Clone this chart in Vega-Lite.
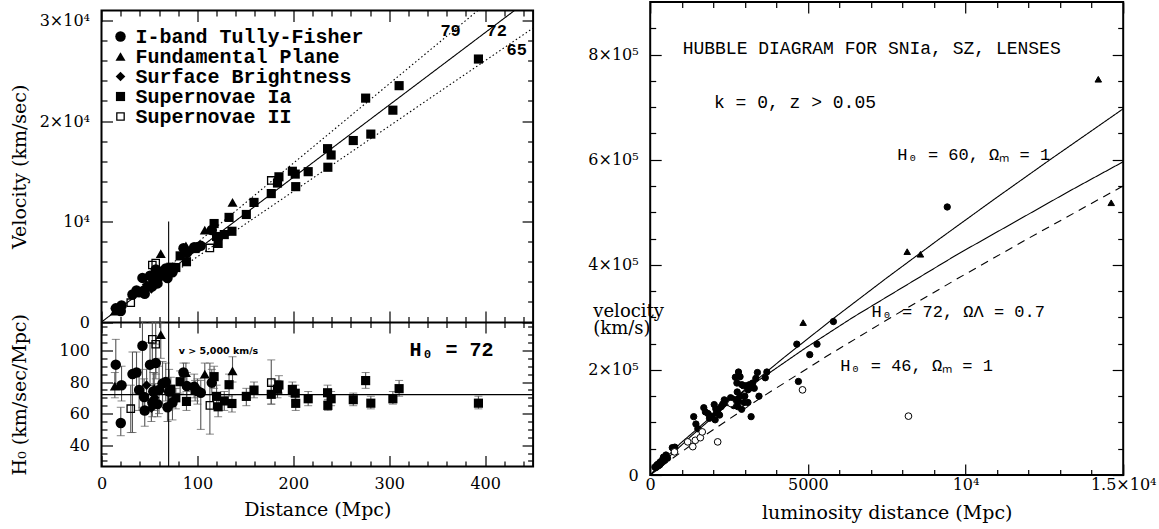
{
  "$schema": "https://vega.github.io/schema/vega-lite/v6.json",
  "autosize": {"type": "pad"},
  "padding": {"left": 9.5, "top": 0, "right": 0, "bottom": 0},
  "background": "white",
  "config": {
    "view": {"stroke": "black", "strokeWidth": 2},
    "font": "DejaVu Serif",
    "axis": {
      "domain": false, "grid": false, "labelFont": "DejaVu Serif", "labelFontSize": 16,
      "labelColor": "black", "tickColor": "black", "tickWidth": 1.2,
      "titleFont": "DejaVu Serif", "titleFontSize": 19, "titleFontWeight": "normal", "titleColor": "black",
      "labelFlush": false, "labelOverlap": false, "labelBound": false
    }
  },
  "datasets": {
    "hl": [
      {"g": "72", "d": 0, "v": 0}, {"g": "72", "d": 430.6, "v": 31000},
      {"g": "79", "d": 70, "v": 5530}, {"g": "79", "d": 392.4, "v": 31000},
      {"g": "65", "d": 70, "v": 4550}, {"g": "65", "d": 450, "v": 29250}
    ],
    "hlab": [
      {"t": "79", "d": 364, "v": 28930}, {"t": "72", "d": 412, "v": 28930}, {"t": "65", "d": 433, "v": 27040}
    ],
    "vmark": [{"d": 70, "v0": 0, "v1": 10000}],
    "pts": [
      {"m": "I-band Tully-Fisher", "d": 14.9, "v": 1360, "h": 91, "lo": 79, "hi": 107},
      {"m": "I-band Tully-Fisher", "d": 20.1, "v": 1090, "h": 54, "lo": 46, "hi": 64},
      {"m": "I-band Tully-Fisher", "d": 20.9, "v": 1640, "h": 78, "lo": 68, "hi": 90},
      {"m": "I-band Tully-Fisher", "d": 32.3, "v": 2740, "h": 85, "lo": 48, "hi": 99},
      {"m": "I-band Tully-Fisher", "d": 36.5, "v": 3140, "h": 86, "lo": 73, "hi": 99},
      {"m": "I-band Tully-Fisher", "d": 39.2, "v": 2950, "h": 75, "lo": 62, "hi": 88},
      {"m": "I-band Tully-Fisher", "d": 42.7, "v": 4390, "h": 103, "lo": 64, "hi": 118},
      {"m": "I-band Tully-Fisher", "d": 45.1, "v": 2800, "h": 62, "lo": 52, "hi": 72},
      {"m": "I-band Tully-Fisher", "d": 44.4, "v": 3130, "h": 70.5, "lo": 60, "hi": 82},
      {"m": "I-band Tully-Fisher", "d": 50.6, "v": 4610, "h": 91, "lo": 78, "hi": 105},
      {"m": "I-band Tully-Fisher", "d": 53, "v": 3550, "h": 67, "lo": 58, "hi": 78},
      {"m": "I-band Tully-Fisher", "d": 54, "v": 4010, "h": 74, "lo": 64, "hi": 86},
      {"m": "I-band Tully-Fisher", "d": 56.6, "v": 5220, "h": 92, "lo": 82, "hi": 104},
      {"m": "I-band Tully-Fisher", "d": 58.4, "v": 3840, "h": 66, "lo": 58, "hi": 75},
      {"m": "I-band Tully-Fisher", "d": 60, "v": 4500, "h": 75, "lo": 60, "hi": 90},
      {"m": "I-band Tully-Fisher", "d": 63.6, "v": 5050, "h": 79, "lo": 66, "hi": 93},
      {"m": "I-band Tully-Fisher", "d": 67, "v": 5330, "h": 80, "lo": 68, "hi": 92},
      {"m": "I-band Tully-Fisher", "d": 68.8, "v": 4380, "h": 64, "lo": 55, "hi": 74},
      {"m": "I-band Tully-Fisher", "d": 70.5, "v": 5240, "h": 74, "lo": 62, "hi": 88},
      {"m": "I-band Tully-Fisher", "d": 74, "v": 4950, "h": 67, "lo": 56, "hi": 78},
      {"m": "I-band Tully-Fisher", "d": 85.5, "v": 7350, "h": 86, "lo": 78, "hi": 92},
      {"m": "I-band Tully-Fisher", "d": 89, "v": 6890, "h": 77.4, "lo": 70, "hi": 86},
      {"m": "I-band Tully-Fisher", "d": 96.6, "v": 7440, "h": 77, "lo": 70, "hi": 85},
      {"m": "I-band Tully-Fisher", "d": 100, "v": 7430, "h": 74.3, "lo": 66, "hi": 82},
      {"m": "I-band Tully-Fisher", "d": 103.5, "v": 7580, "h": 73.2, "lo": 50, "hi": 81},
      {"m": "I-band Tully-Fisher", "d": 115, "v": 9150, "h": 79.6, "lo": 72, "hi": 88},
      {"m": "Fundamental Plane", "d": 13.9, "v": 1075, "h": 77.4, "lo": 70, "hi": 86},
      {"m": "Fundamental Plane", "d": 55, "v": 4200, "h": 76, "lo": 66, "hi": 86},
      {"m": "Fundamental Plane", "d": 61.8, "v": 6800, "h": 110, "lo": 95, "hi": 118},
      {"m": "Fundamental Plane", "d": 88, "v": 7570, "h": 86, "lo": 76, "hi": 92},
      {"m": "Fundamental Plane", "d": 107.7, "v": 9140, "h": 85, "lo": 72, "hi": 92},
      {"m": "Fundamental Plane", "d": 136.6, "v": 11900, "h": 87, "lo": 80, "hi": 96},
      {"m": "Surface Brightness", "d": 47, "v": 3700, "h": 78, "lo": 68, "hi": 88},
      {"m": "Surface Brightness", "d": 52, "v": 3300, "h": 63.5, "lo": 55, "hi": 72},
      {"m": "Surface Brightness", "d": 55.5, "v": 3900, "h": 70, "lo": 62, "hi": 79},
      {"m": "Supernovae Ia", "d": 72.3, "v": 5450, "h": 75.4, "lo": 68, "hi": 83},
      {"m": "Supernovae Ia", "d": 77.5, "v": 5420, "h": 70, "lo": 63, "hi": 76},
      {"m": "Supernovae Ia", "d": 82, "v": 6580, "h": 80.2, "lo": 73, "hi": 87},
      {"m": "Supernovae Ia", "d": 88.6, "v": 6000, "h": 67.7, "lo": 62, "hi": 74},
      {"m": "Supernovae Ia", "d": 97.6, "v": 7310, "h": 74.9, "lo": 68, "hi": 81},
      {"m": "Supernovae Ia", "d": 117.4, "v": 9800, "h": 83.4, "lo": 76, "hi": 90},
      {"m": "Supernovae Ia", "d": 120, "v": 8510, "h": 70.9, "lo": 64, "hi": 78},
      {"m": "Supernovae Ia", "d": 121.6, "v": 7820, "h": 64.3, "lo": 58, "hi": 70},
      {"m": "Supernovae Ia", "d": 128, "v": 8700, "h": 68, "lo": 62, "hi": 74},
      {"m": "Supernovae Ia", "d": 133, "v": 10410, "h": 78.3, "lo": 71, "hi": 85},
      {"m": "Supernovae Ia", "d": 136, "v": 9030, "h": 66.4, "lo": 61, "hi": 72},
      {"m": "Supernovae Ia", "d": 151, "v": 10700, "h": 70.9, "lo": 65, "hi": 76},
      {"m": "Supernovae Ia", "d": 159, "v": 11900, "h": 74.9, "lo": 70, "hi": 80},
      {"m": "Supernovae Ia", "d": 177, "v": 12780, "h": 72.2, "lo": 66, "hi": 78},
      {"m": "Supernovae Ia", "d": 183.5, "v": 13830, "h": 75.4, "lo": 70, "hi": 81},
      {"m": "Supernovae Ia", "d": 185, "v": 14450, "h": 78.1, "lo": 73, "hi": 84},
      {"m": "Supernovae Ia", "d": 199, "v": 15000, "h": 75.3, "lo": 71, "hi": 80},
      {"m": "Supernovae Ia", "d": 202, "v": 14720, "h": 72.9, "lo": 68, "hi": 78},
      {"m": "Supernovae Ia", "d": 202.5, "v": 13470, "h": 66.5, "lo": 62, "hi": 71},
      {"m": "Supernovae Ia", "d": 215.5, "v": 14960, "h": 69.4, "lo": 65, "hi": 74},
      {"m": "Supernovae Ia", "d": 235.7, "v": 17250, "h": 73.2, "lo": 68, "hi": 78},
      {"m": "Supernovae Ia", "d": 236, "v": 15400, "h": 65.2, "lo": 62, "hi": 69},
      {"m": "Supernovae Ia", "d": 239.4, "v": 16620, "h": 69.4, "lo": 65, "hi": 74},
      {"m": "Supernovae Ia", "d": 262.5, "v": 18060, "h": 68.8, "lo": 65, "hi": 73},
      {"m": "Supernovae Ia", "d": 275.4, "v": 22280, "h": 80.9, "lo": 76, "hi": 86},
      {"m": "Supernovae Ia", "d": 280.8, "v": 18700, "h": 66.6, "lo": 63, "hi": 71},
      {"m": "Supernovae Ia", "d": 303.8, "v": 21080, "h": 69.4, "lo": 66, "hi": 74},
      {"m": "Supernovae Ia", "d": 310.3, "v": 23520, "h": 75.8, "lo": 71, "hi": 81},
      {"m": "Supernovae Ia", "d": 393, "v": 26170, "h": 66.6, "lo": 63, "hi": 71},
      {"m": "Supernovae II", "d": 30.5, "v": 1925, "h": 63.1, "lo": 48, "hi": 78},
      {"m": "Supernovae II", "d": 53, "v": 5670, "h": 107, "lo": 90, "hi": 118},
      {"m": "Supernovae II", "d": 56.5, "v": 5870, "h": 103.9, "lo": 85, "hi": 118},
      {"m": "Supernovae II", "d": 113, "v": 7370, "h": 65.2, "lo": 47, "hi": 92},
      {"m": "Supernovae II", "d": 177, "v": 14090, "h": 79.6, "lo": 66, "hi": 94}
    ],
    "h0lab": [{"t": "H₀ = 72", "d": 365, "h": 100.1}],
    "vlab": [{"t": "v > 5,000 km/s", "d": 80.6, "h": 99.5}],
    "cv": [
      {"c": "60", "d": 0, "v": 0}, {"c": "60", "d": 511.5, "v": 29979}, {"c": "60", "d": 1318.8, "v": 74948},
      {"c": "60", "d": 2750.6, "v": 149896}, {"c": "60", "d": 4268.2, "v": 224844}, {"c": "60", "d": 5853.8, "v": 299792},
      {"c": "60", "d": 7494.8, "v": 374740}, {"c": "60", "d": 9182.2, "v": 449688}, {"c": "60", "d": 10909.3, "v": 524636},
      {"c": "60", "d": 12670.6, "v": 599584}, {"c": "60", "d": 15000, "v": 696800},
      {"c": "72", "d": 0, "v": 0}, {"c": "72", "d": 447.5, "v": 29979}, {"c": "72", "d": 952.9, "v": 59958},
      {"c": "72", "d": 2111.8, "v": 119917}, {"c": "72", "d": 3432.1, "v": 179875}, {"c": "72", "d": 4878.5, "v": 239834},
      {"c": "72", "d": 6424.1, "v": 299792}, {"c": "72", "d": 9740.4, "v": 419709}, {"c": "72", "d": 13276.8, "v": 539618},
      {"c": "72", "d": 15000, "v": 596000},
      {"c": "46", "d": 0, "v": 0}, {"c": "46", "d": 667.2, "v": 29979}, {"c": "46", "d": 1720.1, "v": 74948},
      {"c": "46", "d": 3587.8, "v": 149896}, {"c": "46", "d": 5567.3, "v": 224844}, {"c": "46", "d": 7635.4, "v": 299792},
      {"c": "46", "d": 9775.8, "v": 374740}, {"c": "46", "d": 11976.8, "v": 449688}, {"c": "46", "d": 14229.5, "v": 524636},
      {"c": "46", "d": 15000, "v": 549900}
    ],
    "rp": [
      {"k": "c", "d": 150, "v": 15000}, {"k": "c", "d": 180, "v": 14000}, {"k": "c", "d": 200, "v": 18000},
      {"k": "c", "d": 230, "v": 20000}, {"k": "c", "d": 250, "v": 17000}, {"k": "c", "d": 280, "v": 22000},
      {"k": "c", "d": 300, "v": 19000}, {"k": "c", "d": 320, "v": 25000}, {"k": "c", "d": 350, "v": 23000},
      {"k": "c", "d": 400, "v": 30000}, {"k": "c", "d": 420, "v": 34000}, {"k": "c", "d": 450, "v": 28000},
      {"k": "c", "d": 500, "v": 38000}, {"k": "c", "d": 550, "v": 32000}, {"k": "c", "d": 700, "v": 52000},
      {"k": "c", "d": 780, "v": 53000},
      {"k": "c", "d": 1380, "v": 111000}, {"k": "c", "d": 1450, "v": 97000}, {"k": "c", "d": 1510, "v": 88000},
      {"k": "c", "d": 1700, "v": 128000}, {"k": "c", "d": 1750, "v": 120000}, {"k": "c", "d": 1830, "v": 117000},
      {"k": "c", "d": 1880, "v": 108000}, {"k": "c", "d": 1950, "v": 112000}, {"k": "c", "d": 2030, "v": 134000},
      {"k": "c", "d": 2060, "v": 105000}, {"k": "c", "d": 2080, "v": 126000}, {"k": "c", "d": 2100, "v": 118000},
      {"k": "c", "d": 2150, "v": 124000}, {"k": "c", "d": 2200, "v": 114000}, {"k": "c", "d": 2250, "v": 130000},
      {"k": "c", "d": 2300, "v": 135000}, {"k": "c", "d": 2350, "v": 143000}, {"k": "c", "d": 2400, "v": 140000},
      {"k": "c", "d": 2450, "v": 138000}, {"k": "c", "d": 2500, "v": 140000}, {"k": "c", "d": 2550, "v": 147000},
      {"k": "c", "d": 2600, "v": 145000}, {"k": "c", "d": 2650, "v": 132000}, {"k": "c", "d": 2700, "v": 143000},
      {"k": "c", "d": 2700, "v": 186000}, {"k": "c", "d": 2750, "v": 175000}, {"k": "c", "d": 2760, "v": 158000},
      {"k": "c", "d": 2780, "v": 130000}, {"k": "c", "d": 2800, "v": 140000}, {"k": "c", "d": 2800, "v": 196000},
      {"k": "c", "d": 2850, "v": 150000}, {"k": "c", "d": 2850, "v": 187000}, {"k": "c", "d": 2900, "v": 172000},
      {"k": "c", "d": 2900, "v": 125000}, {"k": "c", "d": 2950, "v": 170000}, {"k": "c", "d": 2980, "v": 138000},
      {"k": "c", "d": 3000, "v": 150000}, {"k": "c", "d": 3050, "v": 170000}, {"k": "c", "d": 3100, "v": 162000},
      {"k": "c", "d": 3100, "v": 138000}, {"k": "c", "d": 3150, "v": 172000}, {"k": "c", "d": 3200, "v": 166000},
      {"k": "c", "d": 3200, "v": 111000}, {"k": "c", "d": 3250, "v": 175000}, {"k": "c", "d": 3300, "v": 165000},
      {"k": "c", "d": 3350, "v": 184000}, {"k": "c", "d": 3400, "v": 195000}, {"k": "c", "d": 3450, "v": 150000},
      {"k": "c", "d": 3650, "v": 185000}, {"k": "c", "d": 3700, "v": 196000},
      {"k": "c", "d": 4650, "v": 249000}, {"k": "c", "d": 5290, "v": 249000}, {"k": "c", "d": 5060, "v": 229000},
      {"k": "c", "d": 4700, "v": 178000}, {"k": "c", "d": 5810, "v": 292000}, {"k": "c", "d": 9420, "v": 510000},
      {"k": "t", "d": 4850, "v": 290000}, {"k": "t", "d": 8150, "v": 425000}, {"k": "t", "d": 8570, "v": 420000},
      {"k": "t", "d": 14210, "v": 753000}, {"k": "t", "d": 14620, "v": 518000},
      {"k": "o", "d": 770, "v": 44000}, {"k": "o", "d": 1190, "v": 63000}, {"k": "o", "d": 1350, "v": 54000},
      {"k": "o", "d": 1430, "v": 66000}, {"k": "o", "d": 1590, "v": 71000}, {"k": "o", "d": 1650, "v": 82000},
      {"k": "o", "d": 2140, "v": 63000}, {"k": "o", "d": 2560, "v": 136000}, {"k": "o", "d": 4830, "v": 162000},
      {"k": "o", "d": 8190, "v": 112000}
    ],
    "rt1": [
      {"t": "HUBBLE DIAGRAM FOR SNIa, SZ, LENSES", "d": 1029, "v": 811000},
      {"t": "k = 0, z > 0.05", "d": 2023, "v": 708000}
    ],
    "rt2": [
      {"t": "H₀ = 60, Ωₘ = 1", "d": 7836, "v": 609000},
      {"t": "H₀ = 72, ΩΛ = 0.7", "d": 7018, "v": 311000},
      {"t": "H₀ = 46, Ωₘ = 1", "d": 6023, "v": 208000}
    ]
  },
  "bounds": "flush",
  "center": true,
  "spacing": 116.7,
  "resolve": {"scale": {"shape": "independent", "fill": "independent", "size": "independent", "strokeDash": "independent"}, "legend": {"shape": "independent", "fill": "independent", "size": "independent"}},
  "hconcat": [
    {
      "width": 431.6,
      "height": 456,
      "resolve": {"scale": {"y": "independent"}, "axis": {"x": "independent", "y": "independent"}},
      "layer": [
        {
          "data": {"name": "hl"},
          "mark": {"type": "line", "color": "black", "strokeWidth": 1.1},
          "encoding": {
            "x": {"field": "d", "type": "quantitative", "scale": {"domain": [0, 450], "nice": false, "zero": false},
              "axis": {"orient": "bottom", "values": [0, 100, 200, 300, 400], "tickSize": -11, "labelPadding": 28, "labelBaseline": "middle",
                "title": "Distance (Mpc)", "titleY": 42.7, "titleBaseline": "middle"}},
            "y": {"field": "v", "type": "quantitative", "scale": {"domain": [-14380.4, 31000], "nice": false, "zero": false},
              "axis": {"orient": "left", "values": [0, 10000, 20000, 30000], "tickSize": -11, "labelPadding": 23,
                "labelExpr": "datum.value == 0 ? '0' : datum.value == 10000 ? '10⁴' : (datum.value / 10000) + '×10⁴'",
                "title": "Velocity (km/sec)", "titleX": -82, "titleY": 155.75, "titleBaseline": "middle"}},
            "strokeDash": {"field": "g", "type": "nominal", "scale": {"domain": ["72", "79", "65"], "range": [[1, 0], [1.5, 2.5], [1.5, 2.5]]}, "legend": null}
          }
        },
        {
          "data": {"name": "vmark"},
          "mark": {"type": "rule", "color": "black", "strokeWidth": 1.1},
          "encoding": {
            "x": {"field": "d", "type": "quantitative",
              "axis": {"orient": "top", "values": [0, 100, 200, 300, 400], "labels": false, "tickSize": -11, "title": null}},
            "y": {"field": "v0", "type": "quantitative", "scale": {"domain": [-14380.4, 31000], "nice": false, "zero": false},
              "axis": {"orient": "right", "values": [0, 10000, 20000, 30000], "labels": false, "tickSize": -11, "title": null}},
            "y2": {"field": "v1"}
          }
        },
        {
          "data": {"name": "hlab"},
          "mark": {"type": "text", "font": "Liberation Mono", "fontWeight": "bold", "fontSize": 17, "color": "black", "align": "center", "baseline": "middle"},
          "encoding": {
            "x": {"field": "d", "type": "quantitative",
              "axis": {"orient": "top", "values": [20, 40, 60, 80, 120, 140, 160, 180, 220, 240, 260, 280, 320, 340, 360, 380, 420, 440], "labels": false, "tickSize": -5.5, "title": null}},
            "y": {"field": "v", "type": "quantitative", "scale": {"domain": [-14380.4, 31000], "nice": false, "zero": false},
              "axis": {"orient": "right", "values": [2000, 4000, 6000, 8000, 12000, 14000, 16000, 18000, 22000, 24000, 26000, 28000], "labels": false, "tickSize": -5.5, "title": null}},
            "text": {"field": "t"}
          }
        },
        {
          "data": {"name": "pts"},
          "mark": {"type": "point", "filled": true, "color": "black", "opacity": 1},
          "encoding": {
            "x": {"field": "d", "type": "quantitative",
              "axis": {"orient": "bottom", "values": [20, 40, 60, 80, 120, 140, 160, 180, 220, 240, 260, 280, 320, 340, 360, 380, 420, 440], "labels": false, "tickSize": -5.5, "title": null}},
            "y": {"field": "v", "type": "quantitative", "scale": {"domain": [-14380.4, 31000], "nice": false, "zero": false},
              "axis": {"orient": "left", "values": [2000, 4000, 6000, 8000, 12000, 14000, 16000, 18000, 22000, 24000, 26000, 28000], "labels": false, "tickSize": -5.5, "title": null}},
            "shape": {"field": "m", "type": "nominal",
              "scale": {"domain": ["I-band Tully-Fisher", "Fundamental Plane", "Surface Brightness", "Supernovae Ia", "Supernovae II"], "range": ["circle", "triangle-up", "diamond", "square", "M-1,-1H1V1H-1ZM-0.7,-0.7V0.7H0.7V-0.7Z"]},
              "legend": {"title": null, "orient": "none", "legendX": 9, "legendY": 16, "labelFont": "Liberation Mono", "labelFontSize": 20, "labelFontWeight": "bold", "labelColor": "black", "rowPadding": 0, "labelOffset": 5, "padding": 0, "labelLimit": 400}},
            "size": {"field": "m", "type": "nominal",
              "scale": {"domain": ["I-band Tully-Fisher", "Fundamental Plane", "Surface Brightness", "Supernovae Ia", "Supernovae II"], "range": [110, 75, 70, 75, 65]},
              "legend": {"title": null, "orient": "none", "legendX": 9, "legendY": 16, "labelFont": "Liberation Mono", "labelFontSize": 20, "labelFontWeight": "bold", "labelColor": "black", "rowPadding": 0, "labelOffset": 5, "padding": 0, "labelLimit": 400}}
          }
        },
        {
          "data": {"name": "pts"},
          "mark": {"type": "errorbar", "color": "#555555", "ticks": {"size": 8}, "rule": {"strokeWidth": 1.1}},
          "encoding": {
            "x": {"field": "d", "type": "quantitative", "axis": null},
            "y": {"field": "lo", "type": "quantitative", "scale": {"domain": [26.5, 315.25], "nice": false, "zero": false}, "axis": null},
            "y2": {"field": "hi"}
          }
        },
        {
          "data": {"name": "vmark"},
          "mark": {"type": "rule", "color": "black", "strokeWidth": 1.1},
          "encoding": {
            "y": {"datum": 72, "type": "quantitative", "scale": {"domain": [26.5, 315.25], "nice": false, "zero": false}, "axis": null}
          }
        },
        {
          "data": {"name": "vmark"},
          "mark": {"type": "rule", "color": "black", "strokeWidth": 1.1},
          "encoding": {
            "x": {"field": "d", "type": "quantitative",
              "axis": {"orient": "top", "offset": -311.5, "values": [20, 40, 60, 80, 120, 140, 160, 180, 220, 240, 260, 280, 320, 340, 360, 380, 420, 440], "labels": false, "tickSize": -5.5, "title": null}},
            "y": {"datum": 26.5, "type": "quantitative", "scale": {"domain": [26.5, 315.25], "nice": false, "zero": false},
              "axis": {"orient": "right", "values": [30, 35, 45, 50, 55, 65, 70, 75, 85, 90, 95, 105, 110, 115], "labels": false, "tickSize": -5.5, "title": null}},
            "y2": {"datum": 118}
          }
        },
        {
          "data": {"name": "pts"},
          "mark": {"type": "point", "filled": true, "color": "black", "opacity": 1},
          "encoding": {
            "x": {"field": "d", "type": "quantitative",
              "axis": {"orient": "bottom", "offset": -144.5, "values": [0, 100, 200, 300, 400], "labels": false, "tickSize": -11, "title": null,
                "domain": true, "domainColor": "black", "domainWidth": 2}},
            "y": {"field": "h", "type": "quantitative", "scale": {"domain": [26.5, 315.25], "nice": false, "zero": false},
              "axis": {"orient": "left", "values": [40, 60, 80, 100], "tickSize": -11, "labelPadding": 23,
                "title": "H₀ (km/sec/Mpc)", "titleX": -82, "titleY": 383.75, "titleBaseline": "middle"}},
            "shape": {"field": "m", "type": "nominal"},
            "size": {"field": "m", "type": "nominal"}
          }
        },
        {
          "data": {"name": "h0lab"},
          "mark": {"type": "text", "font": "Liberation Mono", "fontWeight": "bold", "fontSize": 20, "color": "black", "align": "center", "baseline": "middle"},
          "encoding": {
            "x": {"field": "d", "type": "quantitative",
              "axis": {"orient": "bottom", "offset": -144.5, "values": [20, 40, 60, 80, 120, 140, 160, 180, 220, 240, 260, 280, 320, 340, 360, 380, 420, 440], "labels": false, "tickSize": -5.5, "title": null}},
            "y": {"field": "h", "type": "quantitative", "scale": {"domain": [26.5, 315.25], "nice": false, "zero": false},
              "axis": {"orient": "left", "values": [30, 35, 45, 50, 55, 65, 70, 75, 85, 90, 95, 105, 110, 115], "labels": false, "tickSize": -5.5, "title": null}},
            "text": {"field": "t"}
          }
        },
        {
          "data": {"name": "vlab"},
          "mark": {"type": "text", "font": "DejaVu Sans", "fontWeight": "bold", "fontSize": 9.5, "color": "black", "align": "left", "baseline": "middle"},
          "encoding": {
            "x": {"field": "d", "type": "quantitative",
              "axis": {"orient": "top", "offset": -311.5, "values": [0, 100, 200, 300, 400], "labels": false, "tickSize": -11, "title": null}},
            "y": {"field": "h", "type": "quantitative", "scale": {"domain": [26.5, 315.25], "nice": false, "zero": false},
              "axis": {"orient": "right", "values": [40, 60, 80, 100], "labels": false, "tickSize": -11, "title": null}},
            "text": {"field": "t"}
          }
        }
      ]
    },
    {
      "width": 473,
      "height": 473,
      "resolve": {"axis": {"x": "independent", "y": "independent"}},
      "layer": [
        {
          "data": {"name": "cv"},
          "mark": {"type": "line", "color": "black", "strokeWidth": 1.1},
          "encoding": {
            "x": {"field": "d", "type": "quantitative", "scale": {"domain": [0, 15000], "nice": false, "zero": false},
              "axis": {"orient": "bottom", "values": [0, 5000, 10000, 15000], "format": "d", "tickSize": -11, "labelPadding": 20, "labelBaseline": "middle",
                "labelExpr": "datum.value == 10000 ? '10⁴' : datum.value == 15000 ? '1.5×10⁴' : datum.label",
                "title": "luminosity distance (Mpc)", "titleY": 37.7, "titleBaseline": "middle"}},
            "y": {"field": "v", "type": "quantitative", "scale": {"domain": [0, 900000], "nice": false, "zero": false},
              "axis": {"orient": "left", "values": [0, 200000, 400000, 600000, 800000], "tickSize": -11, "labelPadding": 23,
                "labelExpr": "datum.value == 0 ? '0' : (datum.value / 100000) + '×10⁵'",
                "title": ["velocity", "(km/s)"], "titleAngle": 0, "titleAlign": "left", "titleX": -57.4, "titleY": 309.5, "titleBaseline": "middle", "titleLineHeight": 17, "titleFontSize": 18}},
            "strokeDash": {"field": "c", "type": "nominal", "scale": {"domain": ["60", "72", "46"], "range": [[1, 0], [1, 0], [8, 6]]}, "legend": null}
          }
        },
        {
          "data": {"name": "rp"},
          "mark": {"type": "point", "filled": true, "stroke": "black", "strokeWidth": 1, "opacity": 1},
          "encoding": {
            "x": {"field": "d", "type": "quantitative",
              "axis": {"orient": "bottom", "values": [1000, 2000, 3000, 4000, 6000, 7000, 8000, 9000, 11000, 12000, 13000, 14000], "labels": false, "tickSize": -5.5, "title": null}},
            "y": {"field": "v", "type": "quantitative",
              "axis": {"orient": "left", "values": [50000, 100000, 150000, 250000, 300000, 350000, 450000, 500000, 550000, 650000, 700000, 750000, 850000], "labels": false, "tickSize": -5.5, "title": null}},
            "shape": {"field": "k", "type": "nominal", "scale": {"domain": ["c", "t", "o"], "range": ["circle", "triangle-up", "circle"]}, "legend": null},
            "fill": {"field": "k", "type": "nominal", "scale": {"domain": ["c", "t", "o"], "range": ["black", "black", "white"]}, "legend": null},
            "size": {"field": "k", "type": "nominal", "scale": {"domain": ["c", "t", "o"], "range": [40, 45, 25]}, "legend": null}
          }
        },
        {
          "data": {"name": "rt1"},
          "mark": {"type": "text", "font": "Liberation Mono", "fontSize": 18, "color": "black", "align": "left", "baseline": "middle"},
          "encoding": {
            "x": {"field": "d", "type": "quantitative",
              "axis": {"orient": "top", "values": [0, 5000, 10000, 15000], "labels": false, "tickSize": -11, "title": null}},
            "y": {"field": "v", "type": "quantitative",
              "axis": {"orient": "right", "values": [0, 200000, 400000, 600000, 800000], "labels": false, "tickSize": -11, "title": null}},
            "text": {"field": "t"}
          }
        },
        {
          "data": {"name": "rt2"},
          "mark": {"type": "text", "font": "Liberation Mono", "fontSize": 17, "color": "black", "align": "left", "baseline": "middle"},
          "encoding": {
            "x": {"field": "d", "type": "quantitative",
              "axis": {"orient": "top", "values": [1000, 2000, 3000, 4000, 6000, 7000, 8000, 9000, 11000, 12000, 13000, 14000], "labels": false, "tickSize": -5.5, "title": null}},
            "y": {"field": "v", "type": "quantitative",
              "axis": {"orient": "right", "values": [50000, 100000, 150000, 250000, 300000, 350000, 450000, 500000, 550000, 650000, 700000, 750000, 850000], "labels": false, "tickSize": -5.5, "title": null}},
            "text": {"field": "t"}
          }
        }
      ]
    }
  ]
}
